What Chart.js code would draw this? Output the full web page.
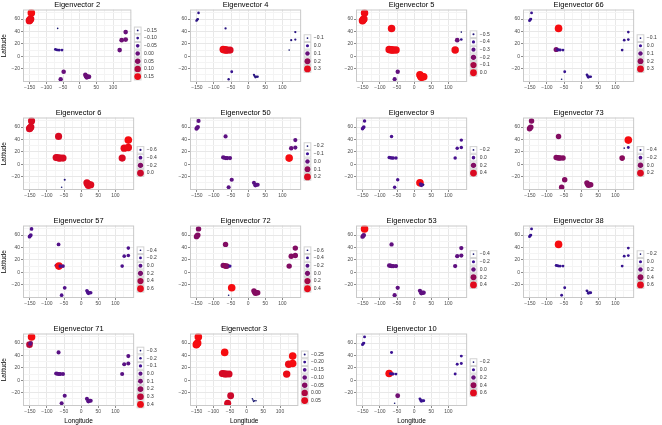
<!DOCTYPE html>
<html>
<head>
<meta charset="utf-8">
<script src="https://cdn.jsdelivr.net/npm/chart.js@4.4.1/dist/chart.umd.min.js"></script>
<style>
  html, body { margin: 0; padding: 0; background: #fff; }
  #wrap { position: relative; width: 662px; height: 425px; overflow: hidden; }
  #wrap canvas { position: absolute; }
</style>
</head>
<body>
<div id="wrap"></div>
<script>
// sample locations (same for every panel)
const lon = [-145, -147, -151, -149, -66, -73, -69, -65, -61, -53, -48, -57, 17, 19, 21, 24, 28, 120, 126, 138, 138];
const lat = [70, 60, 57.5, 59, 45, 11, 10.5, 10, 10, 10, -25, -37, -30, -32, -34, -33, -33, 10, 26, 27, 39];

// eigenvector values per location
const ev2  = [0.16, 0.15, 0.15, 0.15, -0.16, -0.10, -0.10, -0.10, -0.10, -0.09, 0.00, -0.01, 0.00, 0.01, 0.00, 0.01, 0.00, 0.00, 0.01, 0.01, 0.00];
const ev4  = [-0.04, -0.05, -0.05, -0.05, -0.06, 0.30, 0.32, 0.31, 0.30, 0.29, -0.02, -0.05, -0.06, -0.06, -0.07, -0.06, -0.06, -0.11, -0.07, -0.06, -0.06];
const ev5  = [0.02, 0.02, 0.02, 0.02, 0.02, 0.02, 0.02, 0.02, 0.02, 0.02, -0.28, -0.30, 0.03, 0.03, 0.03, 0.03, 0.03, 0.02, -0.25, -0.45, -0.55];
const ev66 = [-0.02, -0.02, -0.02, -0.02, 0.33, 0.15, -0.01, -0.01, -0.01, -0.02, -0.02, -0.11, -0.03, -0.03, -0.03, -0.03, -0.03, -0.03, -0.03, -0.03, -0.03];
const ev6  = [0.03, 0.03, 0.03, 0.03, 0.03, 0.03, 0.03, 0.03, 0.03, 0.03, -0.62, -0.68, 0.04, 0.04, 0.04, 0.04, 0.04, 0.03, 0.06, 0.07, 0.09];
const ev50 = [-0.02, -0.02, -0.02, -0.02, -0.02, -0.02, -0.02, -0.02, -0.02, -0.02, -0.02, -0.03, -0.03, -0.21, -0.03, -0.03, -0.03, 0.23, 0.00, -0.02, -0.02];
const ev9  = [-0.01, -0.01, -0.01, -0.01, -0.01, -0.01, -0.01, -0.01, -0.01, -0.01, -0.01, -0.01, 0.45, 0.00, 0.00, 0.00, -0.22, -0.01, -0.01, -0.01, -0.01];
const ev73 = [0.00, 0.00, 0.00, 0.00, 0.00, 0.00, 0.00, 0.00, 0.00, 0.00, 0.00, 0.00, 0.00, 0.00, 0.00, 0.00, 0.00, 0.02, -0.45, -0.30, 0.25];
const ev57 = [-0.05, -0.05, -0.05, -0.05, -0.02, -0.10, -0.42, 0.65, -0.05, -0.05, -0.03, -0.05, -0.06, -0.06, -0.06, -0.06, -0.06, -0.06, -0.06, -0.06, -0.06];
const ev72 = [0.06, 0.06, 0.06, 0.06, 0.06, 0.03, 0.05, 0.15, 0.05, -0.35, 0.45, -0.62, 0.07, 0.07, 0.07, 0.07, 0.07, 0.06, 0.06, 0.06, 0.06];
const ev53 = [0.45, -0.02, -0.02, -0.02, -0.02, -0.02, -0.02, -0.02, -0.02, -0.03, -0.03, -0.03, -0.03, -0.42, -0.03, -0.03, -0.03, -0.03, -0.03, -0.03, -0.03];
const ev38 = [-0.03, -0.03, -0.03, -0.03, 0.65, -0.03, -0.03, -0.03, -0.03, -0.03, -0.03, -0.03, -0.03, -0.21, -0.03, -0.03, -0.03, -0.03, -0.03, -0.03, -0.03];
const ev71 = [0.42, 0.00, 0.30, 0.00, -0.01, -0.01, -0.01, -0.01, -0.01, -0.01, -0.01, -0.01, -0.01, -0.31, -0.01, -0.01, -0.01, -0.01, -0.01, -0.01, -0.01];
const ev3  = [0.07, 0.07, 0.07, 0.07, 0.07, 0.04, 0.04, 0.04, 0.04, 0.04, 0.03, 0.04, -0.27, -0.27, -0.26, -0.27, -0.27, 0.06, 0.06, 0.07, 0.07];
const ev10 = [-0.03, -0.03, -0.03, -0.03, -0.02, 0.65, -0.02, -0.02, -0.02, -0.05, 0.25, -0.22, -0.03, -0.03, -0.03, -0.03, -0.03, -0.02, -0.02, -0.02, -0.02];

// legend breaks
const br2  = [-0.15, -0.10, -0.05, 0.00, 0.05, 0.10, 0.15];
const br4  = [-0.1, 0.0, 0.1, 0.2, 0.3];
const br5  = [-0.5, -0.4, -0.3, -0.2, -0.1, 0.0];
const br66 = [-0.1, 0.0, 0.1, 0.2, 0.3];
const br6  = [-0.6, -0.4, -0.2, 0.0];
const br50 = [-0.2, -0.1, 0.0, 0.1, 0.2];
const br9  = [-0.2, 0.0, 0.2, 0.4];
const br73 = [-0.4, -0.2, 0.0, 0.2];
const br57 = [-0.4, -0.2, 0.0, 0.2, 0.4, 0.6];
const br72 = [-0.6, -0.4, -0.2, 0.0, 0.2, 0.4];
const br53 = [-0.4, -0.2, 0.0, 0.2, 0.4];
const br38 = [-0.2, 0.0, 0.2, 0.4, 0.6];
const br71 = [-0.3, -0.2, -0.1, 0.0, 0.1, 0.2, 0.3, 0.4];
const br3  = [-0.25, -0.20, -0.15, -0.10, -0.05, 0.00, 0.05];
const br10 = [-0.2, 0.0, 0.2, 0.4, 0.6];

// axis ticks (major ones get labels)
const xTicks = [-150, -125, -100, -75, -50, -25, 0, 25, 50, 75, 100, 125];
const yTicks = [-30, -20, -10, 0, 10, 20, 30, 40, 50, 60, 70];

const panels = [
  ['Eigenvector 2', ev2, br2], ['Eigenvector 4', ev4, br4], ['Eigenvector 5', ev5, br5], ['Eigenvector 66', ev66, br66],
  ['Eigenvector 6', ev6, br6], ['Eigenvector 50', ev50, br50], ['Eigenvector 9', ev9, br9], ['Eigenvector 73', ev73, br73],
  ['Eigenvector 57', ev57, br57], ['Eigenvector 72', ev72, br72], ['Eigenvector 53', ev53, br53], ['Eigenvector 38', ev38, br38],
  ['Eigenvector 71', ev71, br71], ['Eigenvector 3', ev3, br3], ['Eigenvector 10', ev10, br10]
];

const FONT = "'Liberation Sans', Arial, sans-serif";
Chart.defaults.font.family = FONT;

// low -> high colour ramp (navy, purple, maroon, red)
const stops = [
  [0, [22, 22, 110]], [0.25, [62, 18, 150]], [0.5, [104, 16, 122]],
  [0.72, [146, 10, 84]], [0.87, [198, 8, 46]], [1, [246, 12, 16]]
];
function rampColor(t) {
  t = Math.max(0, Math.min(1, t));
  for (let i = 1; i < stops.length; i++) {
    if (t <= stops[i][0]) {
      const a = stops[i - 1], b = stops[i];
      const f = (t - a[0]) / (b[0] - a[0]);
      const c = a[1].map((v, k) => Math.round(v + (b[1][k] - v) * f));
      return 'rgb(' + c.join(',') + ')';
    }
  }
  return 'rgb(246,12,16)';
}
function rampSize(t) {
  t = Math.max(0, Math.min(1, t));
  return 0.8 + 3.0 * t;
}
function fmt(v, dec) {
  const s = Math.abs(v).toFixed(dec);
  return (v < 0 ? '\u2212' : '') + s;
}

// legend drawn next to the panel
const keyLegend = {
  id: 'keyLegend',
  afterDatasetsDraw(chart, args, opts) {
    const ctx = chart.ctx, a = chart.chartArea;
    // panel border
    ctx.save();
    ctx.strokeStyle = '#c9c9c9';
    ctx.lineWidth = 1;
    ctx.strokeRect(a.left + 0.5, a.top + 0.5, a.right - a.left - 1, a.bottom - a.top - 1);
    const br = opts.breaks, n = br.length, k = 7.7;
    const x0 = a.right + 2.5;
    const y0 = 53.5 - n * k / 2;
    ctx.font = '5px ' + FONT;
    ctx.textBaseline = 'middle';
    ctx.textAlign = 'left';
    br.forEach((b, i) => {
      const t = (b - opts.min) / (opts.max - opts.min);
      const y = y0 + i * k;
      ctx.fillStyle = '#fff';
      ctx.fillRect(x0, y, k, k);
      ctx.strokeStyle = '#d2d2d2';
      ctx.strokeRect(x0 + 0.5, y + 0.5, k - 1, k - 1);
      ctx.beginPath();
      ctx.arc(x0 + k / 2, y + k / 2, Math.min(rampSize(t), 3.4), 0, Math.PI * 2);
      ctx.fillStyle = rampColor(t);
      ctx.fill();
      ctx.fillStyle = '#333';
      ctx.fillText(fmt(b, opts.dec), x0 + k + 2.5, y + k / 2);
    });
    ctx.restore();
  }
};

const measure = document.createElement('canvas').getContext('2d');
measure.font = '5px ' + FONT;
const wrap = document.getElementById('wrap');

panels.forEach((p, idx) => {
  const [title, vals, breaks] = p;
  const col = idx % 4, row = Math.floor(idx / 4);
  const bottom = row === 3, left = col === 0;
  const w = 166, h = bottom ? 101 : 93;
  const cv = document.createElement('canvas');
  cv.width = w; cv.height = h;
  cv.style.left = Math.round(col * 166.67) + 'px';
  cv.style.top = (row * 108) + 'px';
  cv.style.width = w + 'px'; cv.style.height = h + 'px';
  wrap.appendChild(cv);

  const vmin = Math.min(...vals), vmax = Math.max(...vals);
  const dec = breaks.some(b => Math.abs(Math.round(b * 10) - b * 10) > 1e-6) ? 2 : 1;
  const labW = Math.max(...breaks.map(b => measure.measureText(fmt(b, dec)).width));
  const tt = v => (v - vmin) / (vmax - vmin);

  new Chart(cv, {
    type: 'scatter',
    data: {
      datasets: [{
        data: lon.map((x, i) => ({ x: x, y: lat[i] })),
        pointRadius: ctx => rampSize(tt(vals[ctx.dataIndex])),
        pointHoverRadius: ctx => rampSize(tt(vals[ctx.dataIndex])),
        backgroundColor: ctx => rampColor(tt(vals[ctx.dataIndex])),
        borderWidth: 0
      }]
    },
    options: {
      responsive: false,
      animation: false,
      events: [],
      layout: { padding: { left: 0, top: 0, bottom: 0, right: labW + 22 } },
      plugins: {
        legend: { display: false },
        tooltip: { enabled: false },
        title: {
          display: true, text: title, fullSize: false, color: '#000',
          font: { size: 7.5, weight: 'normal', family: FONT, lineHeight: 1.2 },
          padding: { top: 0, bottom: 0.5 }
        },
        keyLegend: { breaks: breaks, min: vmin, max: vmax, dec: dec }
      },
      scales: {
        x: {
          type: 'linear', min: -170, max: 155,
          afterBuildTicks: s => { s.ticks = xTicks.map(v => ({ value: v })); },
          afterFit: s => { s.height = bottom ? 19 : 11; },
          ticks: {
            autoSkip: false, maxRotation: 0, padding: 1, color: '#4d4d4d',
            font: { size: 5 },
            callback: v => (v % 50 === 0 ? fmt(v, 0) : '')
          },
          grid: {
            color: c => (c.tick && c.tick.value % 50 === 0 ? '#e8e8e8' : '#f4f4f4'),
            tickColor: c => (c.tick && c.tick.value % 50 === 0 ? '#8c8c8c' : 'rgba(0,0,0,0)'),
            tickLength: 2
          },
          border: { display: false },
          title: {
            display: bottom, text: 'Longitude', color: '#000',
            font: { size: 6.5 }, padding: { top: 0, bottom: 0 }
          }
        },
        y: {
          type: 'linear', min: -41.5, max: 75.5,
          afterBuildTicks: s => { s.ticks = yTicks.map(v => ({ value: v })); },
          afterFit: s => { s.width = 23; },
          ticks: {
            autoSkip: false, padding: 1, color: '#4d4d4d',
            font: { size: 5 },
            callback: v => (v % 20 === 0 ? fmt(v, 0) : '')
          },
          grid: {
            color: c => (c.tick && c.tick.value % 20 === 0 ? '#e8e8e8' : '#f4f4f4'),
            tickColor: c => (c.tick && c.tick.value % 20 === 0 ? '#8c8c8c' : 'rgba(0,0,0,0)'),
            tickLength: 2
          },
          border: { display: false },
          title: {
            display: left, text: 'Latitude', color: '#000',
            font: { size: 6.5 }, padding: { top: 0, bottom: 0 }
          }
        }
      }
    },
    plugins: [keyLegend]
  });
});
</script>
</body>
</html>
